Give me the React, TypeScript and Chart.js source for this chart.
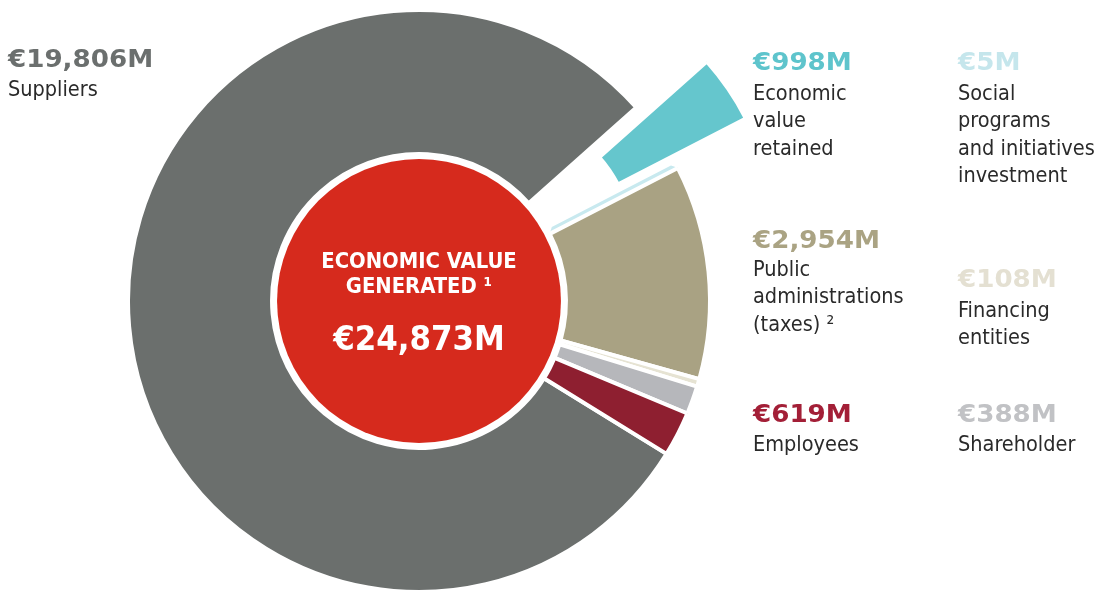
import React, { useEffect, useRef } from 'react';
import { Chart, registerables } from 'chart.js';

Chart.register(...registerables);

// ---------- data ----------
const categories = [
  'Suppliers',
  'Economic value retained',
  'Social programs and initiatives investment',
  'Public administrations (taxes)',
  'Financing entities',
  'Shareholder',
  'Employees',
];
const values = [19806, 998, 5, 2954, 108, 388, 619];
const valueLabels = ['€19,806M', '€998M', '€5M', '€2,954M', '€108M', '€388M', '€619M'];
const nameLines = [
  ['Suppliers'],
  ['Economic', 'value', 'retained'],
  ['Social', 'programs', 'and initiatives', 'investment'],
  ['Public', 'administrations', '(taxes) ²'],
  ['Financing', 'entities'],
  ['Shareholder'],
  ['Employees'],
];
const centerTitle = ['ECONOMIC VALUE', 'GENERATED ¹'];
const totalLabel = '€24,873M';

// ---------- styles ----------
const segmentColors = ['#6b6f6d', '#65c6cd', '#c8e9ef', '#a9a283', '#e6e3d3', '#b6b7bb', '#8e1f30'];
const segmentBorderColors = ['#ffffff', '#ffffff', '#c8e9ef', '#ffffff', '#ffffff', '#ffffff', '#ffffff'];
const segmentBorderWidths = [4, 4, 10, 4, 4, 4, 4];
const valueColors = ['#6b6f6e', '#5ec4cc', '#c5e6ec', '#aaa383', '#e4e0d2', '#c1c2c5', '#a31f37'];
const explodedIndex = 1;
const explodeDistance = 100;
const explodeShrink = 16;
const thinIndex = 2;
const thinInset = 5;

// label layout: x, baseline of value, baseline of first name line
const labelLayout = [
  { x: 8, vb: 67, nb: 96 },
  { x: 753, vb: 70, nb: 100 },
  { x: 958, vb: 70, nb: 100 },
  { x: 753, vb: 248, nb: 276 },
  { x: 958, vb: 287, nb: 317 },
  { x: 958, vb: 422, nb: 451 },
  { x: 753, vb: 422, nb: 451 },
];
const valueSize = 24;
const valueStretch = 1.09;
const linePitch = 27.5;
const bodySize = 21.5;
const ASC = 0.846; // baseline offset in a line-height:1 box (DejaVu)

const shapePlugin = {
  id: 'shape',
  afterDatasetsUpdate(chart: any) {
    const data: any[] = chart.getDatasetMeta(0).data;
    const el: any = data[explodedIndex];
    if (el) {
      const mid = (el.startAngle + el.endAngle) / 2;
      el.x += Math.cos(mid) * explodeDistance;
      el.y += Math.sin(mid) * explodeDistance;
      el.innerRadius -= explodeShrink;
      el.outerRadius -= explodeShrink;
    }
    const thin: any = data[thinIndex];
    if (thin) {
      thin.innerRadius += thinInset;
      thin.outerRadius -= thinInset;
    }
  },
};

const discPlugin = {
  id: 'disc',
  afterDatasetsDraw(chart: any) {
    const el: any = chart.getDatasetMeta(0).data[0];
    if (!el) return;
    const ctx = chart.ctx;
    ctx.save();
    ctx.beginPath();
    ctx.arc(el.x, el.y, el.innerRadius - 5, 0, Math.PI * 2);
    ctx.fillStyle = '#d62a1d';
    ctx.fill();
    ctx.restore();
  },
};

function Text({ x, baseline, size, children, style }: any) {
  return (
    <div
      style={{
        position: 'absolute',
        left: x,
        top: baseline - ASC * size,
        fontSize: size,
        lineHeight: `${size}px`,
        whiteSpace: 'nowrap',
        ...style,
      }}
    >
      {children}
    </div>
  );
}

export default function App() {
  const ref = useRef<HTMLCanvasElement>(null);
  useEffect(() => {
    const chart = new Chart(ref.current as HTMLCanvasElement, {
      type: 'doughnut',
      data: {
        labels: categories,
        datasets: [
          {
            data: values,
            backgroundColor: segmentColors,
            borderColor: segmentBorderColors,
            borderWidth: segmentBorderWidths,
          },
        ],
      },
      options: {
        responsive: false,
        animation: false,
        rotation: 121.7,
        radius: 291,
        cutout: '50.5%',
        events: [],
        layout: { padding: { left: 0, right: 265, top: 10, bottom: 0 } },
        plugins: { legend: { display: false }, tooltip: { enabled: false } },
      } as any,
      plugins: [shapePlugin, discPlugin],
    });
    return () => chart.destroy();
  }, []);

  const valueFont = '"DejaVu Sans", Verdana, sans-serif';
  const bodyFont = '"DejaVu Sans Condensed", "DejaVu Sans", sans-serif';

  return (
    <div style={{ position: 'fixed', left: 0, top: 0, width: 1103, height: 592, background: '#fff', overflow: 'hidden' }}>
      <canvas ref={ref} width={1103} height={592} style={{ display: 'block' }} />
      {labelLayout.map((l, i) => (
        <React.Fragment key={i}>
          <Text
            x={l.x}
            baseline={l.vb}
            size={valueSize}
            style={{
              fontFamily: valueFont,
              fontWeight: 'bold',
              color: valueColors[i],
              transform: `scaleX(${valueStretch})`,
              transformOrigin: 'left center',
            }}
          >
            {valueLabels[i]}
          </Text>
          {nameLines[i].map((line, j) => (
            <Text
              key={j}
              x={l.x}
              baseline={l.nb + j * linePitch}
              size={bodySize}
              style={{ fontFamily: bodyFont, fontStretch: 'condensed', color: '#2a2a2a' }}
            >
              {line}
            </Text>
          ))}
        </React.Fragment>
      ))}
      {centerTitle.map((t, j) => (
        <Text
          key={j}
          x={219}
          baseline={268.5 + j * 24.5}
          size={21.8}
          style={{ width: 400, textAlign: 'center', fontFamily: bodyFont, fontStretch: 'condensed', fontWeight: 'bold', color: '#fff' }}
        >
          {t}
        </Text>
      ))}
      <Text
        x={219}
        baseline={350}
        size={34.4}
        style={{ width: 400, textAlign: 'center', fontFamily: bodyFont, fontStretch: 'condensed', fontWeight: 'bold', color: '#fff' }}
      >
        {totalLabel}
      </Text>
    </div>
  );
}
